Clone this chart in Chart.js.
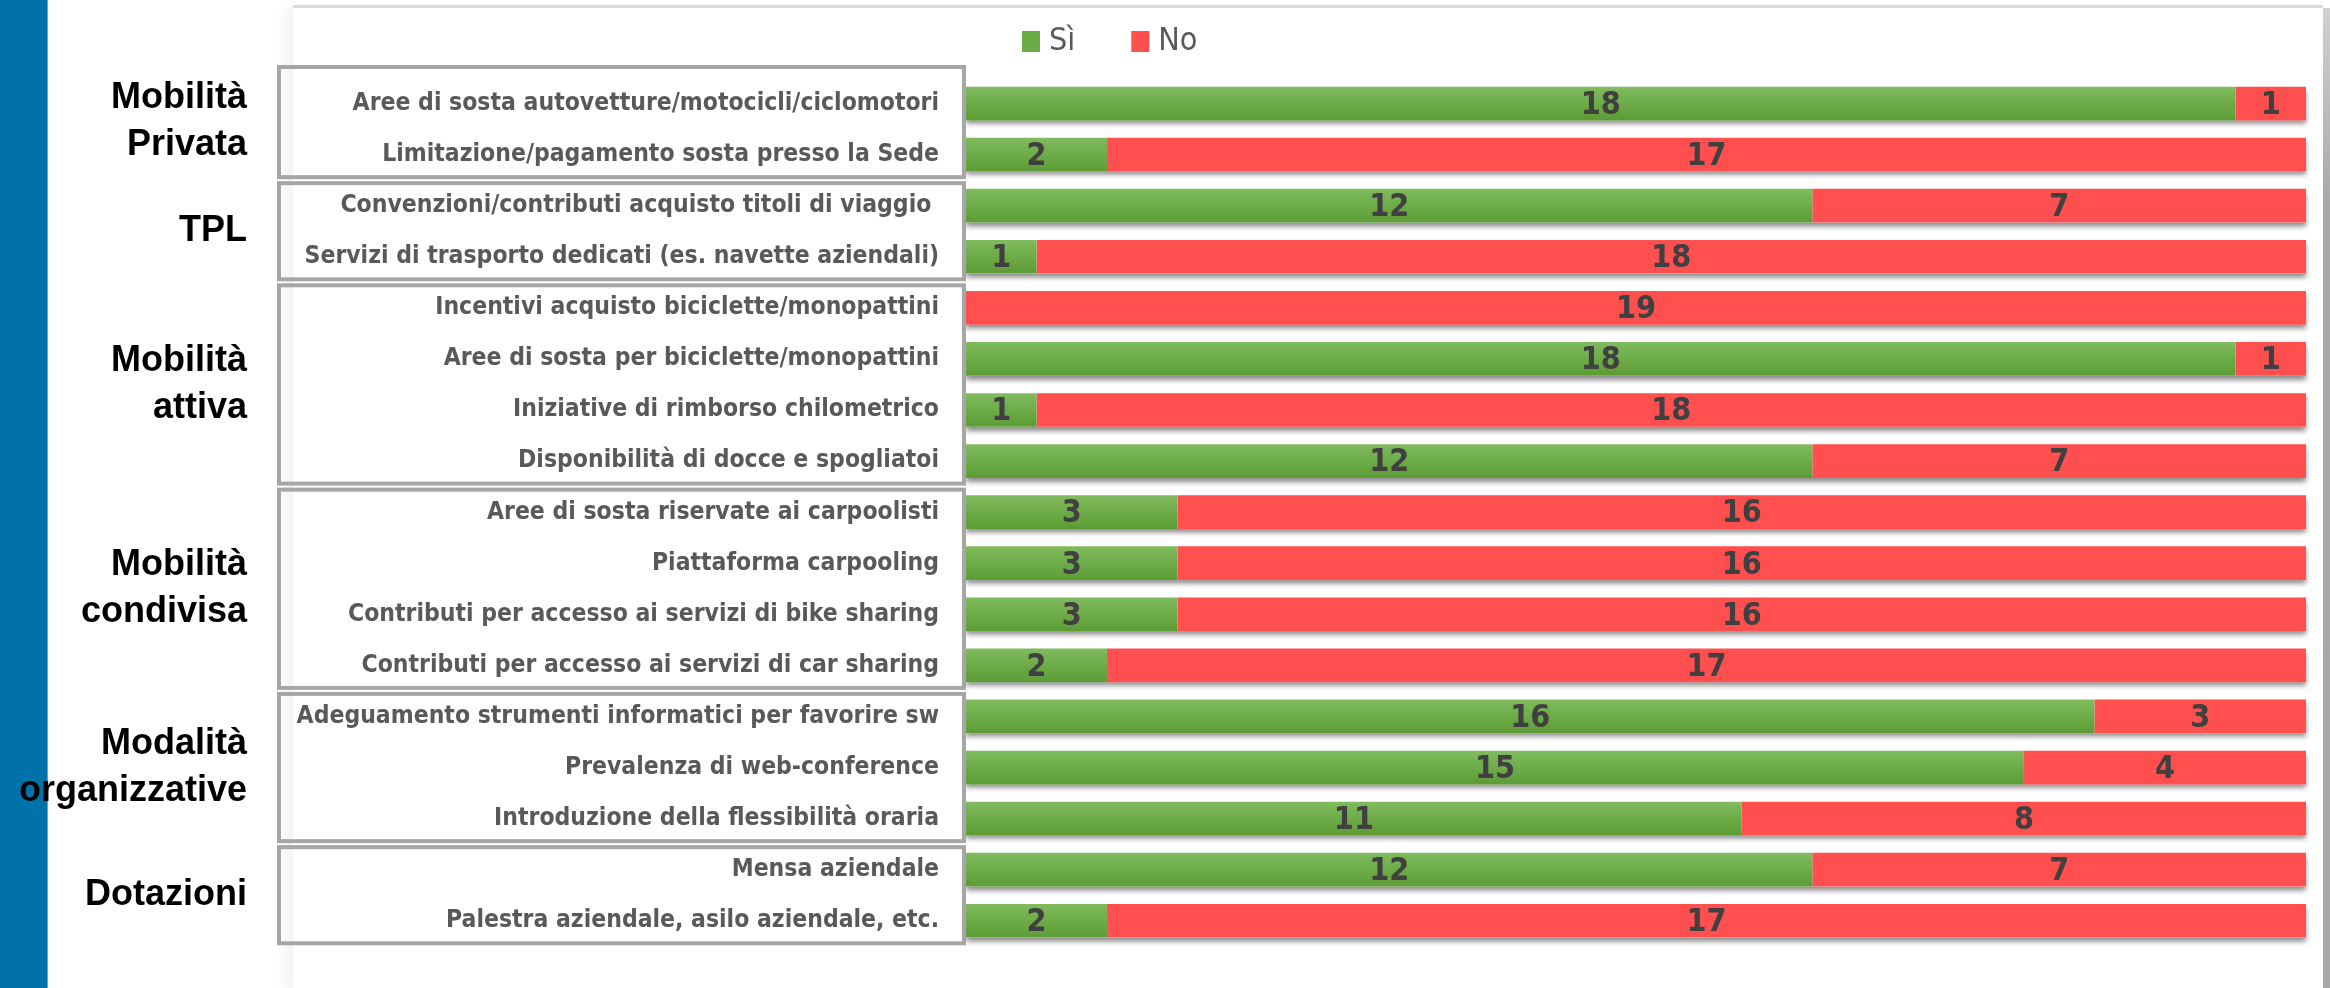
<!DOCTYPE html>
<html>
<head>
<meta charset="utf-8">
<script src="https://cdn.jsdelivr.net/npm/chart.js@4.4.1/dist/chart.umd.min.js"></script>
<style>
  html, body { margin: 0; padding: 0; background: #fff; }
  body { width: 2330px; height: 988px; position: relative; overflow: hidden; }
  #blu { position: absolute; left: 0; top: 0; width: 47px; height: 988px; background: #0072aa; border-right: 1px solid #5aa8d8; }
  #card { position: absolute; left: 293px; top: 5px; width: 2030px; height: 983px; background: #fff;
          border-top: 3px solid #dadada; box-shadow: -8px 0 10px rgba(0,0,0,0.05); }
  #bordo { position: absolute; left: 2323px; top: 8px; width: 7px; height: 980px; background: linear-gradient(#d0d0d0, #a8a8a8 20%, #a8a8a8); }
  #wrap { position: absolute; left: 0; top: 0; width: 2330px; height: 988px; }
</style>
</head>
<body>
<div id="blu"></div>
<div id="card"></div>
<div id="bordo"></div>
<div id="wrap"><canvas id="grafico"></canvas></div>
<script>
const voci = [
  "Aree di sosta autovetture/motocicli/ciclomotori",
  "Limitazione/pagamento sosta presso la Sede",
  "Convenzioni/contributi acquisto titoli di viaggio ",
  "Servizi di trasporto dedicati (es. navette aziendali)",
  "Incentivi acquisto biciclette/monopattini",
  "Aree di sosta per biciclette/monopattini",
  "Iniziative di rimborso chilometrico",
  "Disponibilità di docce e spogliatoi",
  "Aree di sosta riservate ai carpoolisti",
  "Piattaforma carpooling",
  "Contributi per accesso ai servizi di bike sharing",
  "Contributi per accesso ai servizi di car sharing",
  "Adeguamento strumenti informatici per favorire sw",
  "Prevalenza di web-conference",
  "Introduzione della flessibilità oraria",
  "Mensa aziendale",
  "Palestra aziendale, asilo aziendale, etc."
]
const si = [18, 2, 12, 1, 0, 18, 1, 12, 3, 3, 3, 2, 16, 15, 11, 12, 2]
const no = [1, 17, 7, 18, 19, 1, 18, 7, 16, 16, 16, 17, 3, 4, 8, 7, 17]

const gruppi = [["Mobilità", "Privata"], ["TPL"], ["Mobilità", "attiva"], ["Mobilità", "condivisa"], ["Modalità", "organizzative"], ["Dotazioni"]]
const righePerGruppo = [2, 2, 4, 4, 3, 2]

const NARROW = '"Liberation Sans Narrow", "DejaVu Sans Condensed", sans-serif'
const VERDE = "#6aab45", ROSSO = "#ff4f4f"

// sfumatura verde per ogni barra
const sfumaVerde = (ctx) => {
  const chart = ctx.chart
  const y = chart.scales.y
  if (!chart.chartArea || !y || ctx.dataIndex === undefined) return VERDE
  const c = y.getPixelForValue(ctx.dataIndex)
  const h = y.getPixelForTick(1) - y.getPixelForTick(0)
  const g = chart.ctx.createLinearGradient(0, c - h * 0.33, 0, c + h * 0.33)
  g.addColorStop(0, "#80bb5e")
  g.addColorStop(1, "#5c9c34")
  return g
}

const disegnaExtra = {
  id: 'extra',
  beforeDatasetsDraw(chart) {
    const {ctx, chartArea, scales} = chart
    const y = scales.y
    const h = y.getPixelForTick(1) - y.getPixelForTick(0)
    // ombra sotto le barre
    ctx.save()
    ctx.shadowColor = 'rgba(0,0,0,0.45)'
    ctx.shadowBlur = 5
    ctx.shadowOffsetY = 4
    ctx.fillStyle = '#fff'
    voci.forEach((v, i) => {
      const c = y.getPixelForValue(i)
      ctx.fillRect(chartArea.left, c - h * 0.33, chartArea.right - chartArea.left, h * 0.66)
    })
    ctx.restore()
  },
  afterDatasetsDraw(chart) {
    const {ctx, chartArea, scales} = chart
    const y = scales.y
    const h = y.getPixelForTick(1) - y.getPixelForTick(0)
    ctx.save()
    // valori dentro le barre
    ctx.font = 'bold 32px ' + NARROW
    ctx.fillStyle = '#404040'
    ctx.textAlign = 'center'
    ctx.textBaseline = 'middle'
    chart.data.datasets.forEach((ds, d) => {
      chart.getDatasetMeta(d).data.forEach((el, i) => {
        if (!ds.data[i]) return
        ctx.fillText(ds.data[i], (el.x + el.base) / 2, el.y + 2)
      })
    })

    // riquadri dei gruppi ed etichette
    let inizio = 0
    righePerGruppo.forEach((n, g) => {
      let top = y.getPixelForValue(inizio) - h / 2 + 3
      const bottom = y.getPixelForValue(inizio + n - 1) + h / 2 - 3
      if (g === 0) top -= 14
      ctx.strokeStyle = '#a6a6a6'
      ctx.lineWidth = 4
      ctx.strokeRect(279, top, 685, bottom - top)
      const centro = (top + bottom) / 2
      ctx.font = 'bold 36px "Liberation Sans", Arial, sans-serif'
      ctx.fillStyle = '#000'
      ctx.textAlign = 'right'
      const righe = gruppi[g]
      righe.forEach((t, k) => {
        ctx.fillText(t, 247, centro + (k - (righe.length - 1) / 2) * 47)
      })
      inizio += n
    })

    // legenda
    ctx.font = '32px ' + NARROW
    ctx.textAlign = 'left'
    let x = chartArea.left + 56
    chart.data.datasets.forEach((ds) => {
      ctx.fillStyle = ds.legendColor
      ctx.fillRect(x, 31, 18, 21)
      ctx.fillStyle = '#595959'
      ctx.fillText(ds.label, x + 27, 42)
      x += 27 + ctx.measureText(ds.label).width + 56
    })
    ctx.restore()
  }
}

new Chart(document.getElementById("grafico"), {
  type: 'bar',
  data: {
    labels: voci,
    datasets: [
      { label: "Sì", data: si, backgroundColor: sfumaVerde, legendColor: VERDE },
      { label: "No", data: no, backgroundColor: ROSSO, legendColor: ROSSO }
    ]
  },
  options: {
    indexAxis: 'y',
    responsive: true,
    maintainAspectRatio: false,
    animation: false,
    layout: { padding: { top: 78, bottom: 38, right: 24, left: 0 } },
    datasets: { bar: { categoryPercentage: 1, barPercentage: 0.66, borderWidth: 0 } },
    plugins: { legend: { display: false }, tooltip: { enabled: false } },
    scales: {
      x: { stacked: true, min: 0, max: 19, display: false },
      y: {
        stacked: true,
        grid: { display: false, drawTicks: false },
        border: { display: false },
        ticks: { color: '#595959', padding: 27, font: { family: NARROW, size: 24.5, weight: 'bold' } },
        afterFit: (scale) => { scale.width = 966 }
      }
    }
  },
  plugins: [disegnaExtra]
})
</script>
</body>
</html>
